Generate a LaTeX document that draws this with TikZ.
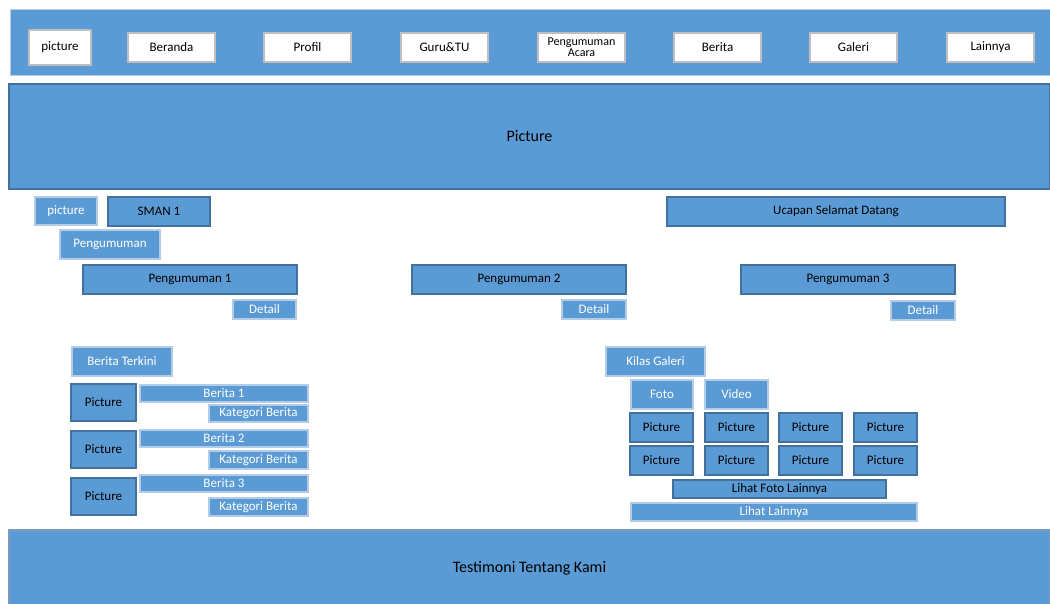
\documentclass[tikz,border=0pt]{standalone}
\usepackage{fontspec}
\setmainfont{Carlito}
\usepackage{tikz}

\definecolor{isi}{HTML}{5B9BD5}
\definecolor{garis}{HTML}{41719C}
\definecolor{garismuda}{HTML}{B4CCE6}

\tikzset{
  kotak/.style={draw, fill=isi, inner sep=0pt, outer sep=0pt, anchor=north west,
    font=\fontsize{13}{14}\selectfont, align=center},
  tebal/.style={kotak, draw=garis, line width=2.5pt, text=black},
  tipis/.style={kotak, draw=garismuda, line width=1.5pt, text=white},
  menu/.style={kotak, fill=white, draw=gray!50, line width=1.2pt, text=black,
    minimum width=87pt, minimum height=29pt},
  foto/.style={tebal, minimum width=63pt, minimum height=29pt}
}

\begin{document}
\begin{tikzpicture}[x=1pt, y=-1pt]
\useasboundingbox (0,0) rectangle (1050,604);

% header
\node[tipis, line width=1pt, minimum width=1040pt, minimum height=66pt] (header) at (10,10) {};
\node[menu, minimum width=62pt, minimum height=35pt] (mpic) at (29,30) {picture};
\node[menu] (mberanda) at (128,33) {Beranda};
\node[menu] (mprofil) at (264,33) {Profil};
\node[menu] (mguru) at (401,33) {Guru\&TU};
\node[menu, font=\fontsize{12}{11}\selectfont] (macara) at (538,33) {Pengumuman\\Acara};
\node[menu] (mberita) at (674,33) {Berita};
\node[menu] (mgaleri) at (810,33) {Galeri};
\node[menu] (mlain) at (947,33) {Lainnya};

% banner
\node[tebal, minimum width=1041pt, minimum height=105pt, font=\fontsize{16}{17}\selectfont] (banner) at (9,84) {Picture};

\node[tipis, minimum width=62pt, minimum height=28pt] (logo) at (35,197) {picture};
\node[tebal, minimum width=102pt, minimum height=29pt] (sman) at (108,197) {SMAN 1};
\node[tebal, minimum width=338pt, minimum height=29pt] (ucapan) at (667,197) {Ucapan Selamat Datang};

% pengumuman
\node[tipis, minimum width=100pt, minimum height=29pt] (peng) at (60,230) {Pengumuman};
\node[tebal, minimum width=214pt, minimum height=29pt] (peng1) at (83,265) {Pengumuman 1};
\node[tebal, minimum width=214pt, minimum height=29pt] (peng2) at (412,265) {Pengumuman 2};
\node[tebal, minimum width=214pt, minimum height=29pt] (peng3) at (741,265) {Pengumuman 3};
\node[tipis, minimum width=63pt, minimum height=19pt] (det1) at (233,300) {Detail};
\node[tipis, minimum width=64pt, minimum height=19pt] (det2) at (562,300) {Detail};
\node[tipis, minimum width=64pt, minimum height=19pt] (det3) at (891,301) {Detail};

% berita
\node[tipis, minimum width=100pt, minimum height=29pt] (terkini) at (72,347) {Berita Terkini};

\node[tebal, minimum width=65pt, minimum height=37pt] (bpic1) at (71,384) {Picture};
\node[tipis, minimum width=168pt, minimum height=17pt] (berita1) at (140,385) {Berita 1};
\node[tipis, minimum width=99pt, minimum height=17pt] (kat1) at (209,405) {Kategori Berita};

\begin{scope}[yshift=-47pt]
\node[tebal, minimum width=65pt, minimum height=37pt] (bpic2) at (71,384) {Picture};
\node[tipis, minimum width=168pt, minimum height=17pt] (berita2) at (140,383) {Berita 2};
\node[tipis, minimum width=99pt, minimum height=18pt] (kat2) at (209,404) {Kategori Berita};
\end{scope}

\begin{scope}[yshift=-94pt]
\node[tebal, minimum width=65pt, minimum height=37pt] (bpic3) at (71,384) {Picture};
\node[tipis, minimum width=168pt, minimum height=17pt] (berita3) at (140,381) {Berita 3};
\node[tipis, minimum width=99pt, minimum height=18pt] (kat3) at (209,404) {Kategori Berita};
\end{scope}

% galeri
\node[tipis, minimum width=99pt, minimum height=29pt] (kilas) at (606,347) {Kilas Galeri};
\node[tipis, minimum width=62pt, minimum height=29pt] (foto) at (631,380) {Foto};
\node[tipis, minimum width=63pt, minimum height=29pt] (video) at (705,380) {Video};

\node[foto] (g11) at (630,413) {Picture};
\node[foto] (g12) at (705,413) {Picture};
\node[foto] (g13) at (779,413) {Picture};
\node[foto] (g14) at (854,413) {Picture};
\node[foto] (g21) at (630,446) {Picture};
\node[foto] (g22) at (705,446) {Picture};
\node[foto] (g23) at (779,446) {Picture};
\node[foto] (g24) at (854,446) {Picture};

\node[tebal, minimum width=213pt, minimum height=18pt] (lihatfoto) at (673,480) {Lihat Foto Lainnya};
\node[tipis, minimum width=286pt, minimum height=18pt] (lihat) at (631,503) {Lihat Lainnya};

% footer
\node[tebal, draw=garis!70, line width=2pt, minimum width=1041pt, minimum height=76pt,
  font=\fontsize{16}{17}\selectfont] (testi) at (9,530) {Testimoni Tentang Kami};

\end{tikzpicture}
\end{document}
